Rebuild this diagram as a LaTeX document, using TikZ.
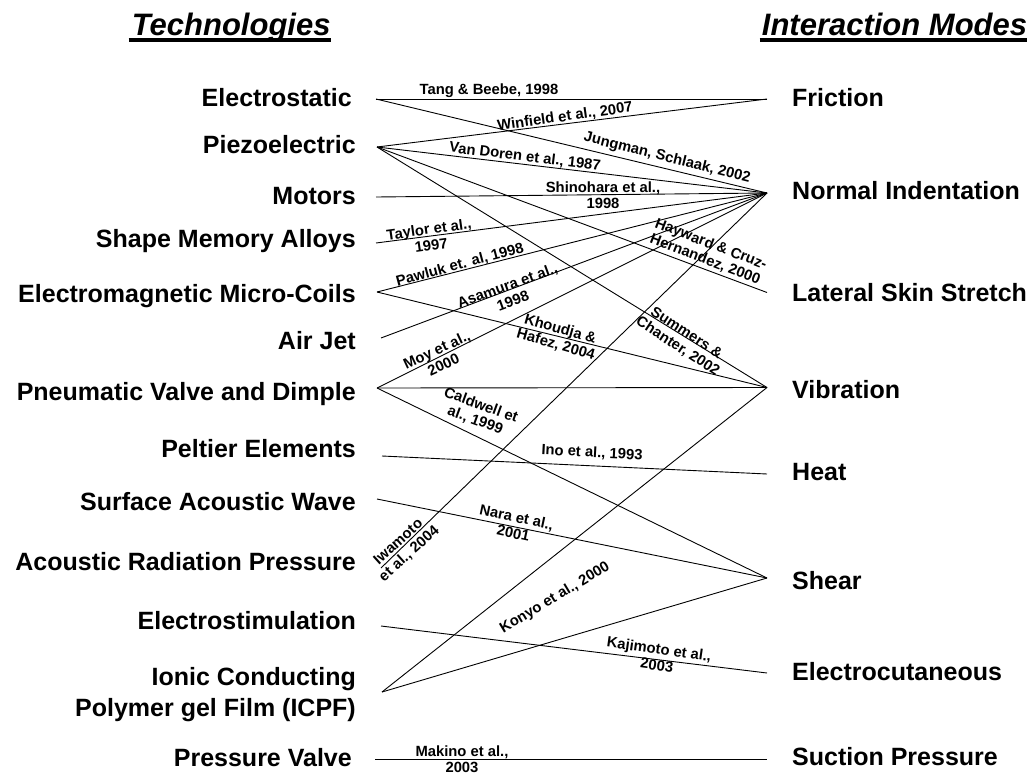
\documentclass[tikz,border=0pt]{standalone}
\usepackage{fontspec}
\setmainfont{Liberation Sans}
\tikzset{
	tech/.style={anchor=base east,inner sep=0pt,font=\fontsize{25}{30}\selectfont\bfseries},
	mode/.style={anchor=base west,inner sep=0pt,font=\fontsize{25}{30}\selectfont\bfseries},
	head/.style={anchor=base west,inner sep=0pt,font=\fontsize{31}{36}\selectfont\bfseries\itshape},
	ref/.style={inner sep=0pt,align=center,font=\fontsize{14.8}{16.2}\selectfont\bfseries},
	link/.style={line width=0.9pt}
}
\begin{document}
\begin{tikzpicture}[x=1pt,y=-1pt]
		\useasboundingbox (0,0) rectangle (1034,774);
		%headings
		\node[head] (hTech) at (131.7,35) {Technologies};
		\node[head] (hMode) at (761.7,35) {Interaction Modes};
		\draw[line width=3.6pt] ([xshift=-3pt,yshift=-4.7pt]hTech.base west) -- ([yshift=-4.7pt]hTech.base east);
		\draw[line width=3.6pt] ([xshift=-2pt,yshift=-4.7pt]hMode.base west) -- ([yshift=-4.7pt]hMode.base east);
		%technologies
		\node[tech] (nEstat) at (352,106) {Electrostatic};
		\node[tech] (nPiezo) at (356,153) {Piezoelectric};
		\node[tech] (nMotor) at (356,204) {Motors};
		\node[tech] (nSMA) at (356,247) {Shape Memory Alloys};
		\node[tech] (nEMC) at (356,302.7) {Electromagnetic Micro-Coils};
		\node[tech] (nAir) at (356,349) {Air Jet};
		\node[tech] (nPneu) at (356,400) {Pneumatic Valve and Dimple};
		\node[tech] (nPelt) at (356,457) {Peltier Elements};
		\node[tech] (nSAW) at (356,510.7) {Surface Acoustic Wave};
		\node[tech] (nARP) at (356,570.7) {Acoustic Radiation Pressure};
		\node[tech] (nEstim) at (356,629.3) {Electrostimulation};
		\node[tech] (nICPFa) at (356,685) {Ionic Conducting};
		\node[tech] (nICPFb) at (356,716.7) {Polymer gel Film (ICPF)};
		\node[tech] (nPVal) at (352,766.7) {Pressure Valve};
		%modes
		\node[mode] (nFric) at (792,106) {Friction};
		\node[mode] (nNorm) at (792,199.3) {Normal Indentation};
		\node[mode] (nLat) at (792,301) {Lateral Skin Stretch};
		\node[mode] (nVib) at (792,398.3) {Vibration};
		\node[mode] (nHeat) at (792,480.7) {Heat};
		\node[mode] (nShear) at (792,589.3) {Shear};
		\node[mode] (nElec) at (792,680.7) {Electrocutaneous};
		\node[mode] (nSuct) at (792,765) {Suction Pressure};
		%line ends
		\coordinate (tEstat) at (376,99);
		\coordinate (tPiezo) at (377,147);
		\coordinate (tMotor) at (376,197);
		\coordinate (tSMA) at (376,243);
		\coordinate (tEMC) at (377,292);
		\coordinate (tAir) at (381,338);
		\coordinate (tPneu) at (377,388);
		\coordinate (tPelt) at (382,456);
		\coordinate (tSAW) at (377,499);
		\coordinate (tARP) at (381,568);
		\coordinate (tEstim) at (381,626);
		\coordinate (tICPF) at (382,692);
		\coordinate (tPVal) at (375,759);
		\coordinate (mFric) at (767,99);
		\coordinate (mNorm) at (767,193);
		\coordinate (mLat) at (767,292.5);
		\coordinate (mVib) at (767,387.5);
		\coordinate (mHeat) at (767,474);
		\coordinate (mShear) at (767,578);
		\coordinate (mElec) at (767,673);
		\coordinate (mSuct) at (767,759);
		%links
		\draw[link] (tEstat) -- (mFric);
		\draw[link] (tEstat) -- (mNorm);
		\draw[link] (tPiezo) -- (mFric);
		\draw[link] (tPiezo) -- (mNorm);
		\draw[link] (tPiezo) -- (mLat);
		\draw[link] (tPiezo) -- (mVib);
		\draw[link] (tMotor) -- (mNorm);
		\draw[link] (tSMA) -- (mNorm);
		\draw[link] (tEMC) -- (mNorm);
		\draw[link] (tEMC) -- (mVib);
		\draw[link] (tAir) -- (mNorm);
		\draw[link] (tPneu) -- (mNorm);
		\draw[link] (tPneu) -- (mVib);
		\draw[link] (tPneu) -- (mShear);
		\draw[link] (tPelt) -- (mHeat);
		\draw[link] (tSAW) -- (mShear);
		\draw[link] (tARP) -- (mNorm);
		\draw[link] (tEstim) -- (mElec);
		\draw[link] (tICPF) -- (mVib);
		\draw[link] (tICPF) -- (mShear);
		\draw[link] (tPVal) -- (mSuct);
		%references
		\node[ref] (rTang) at (489,91) {Tang \& Beebe, 1998};
		\node[ref,rotate=8] (rWinf) at (565,117) {Winfield et al., 2007};
		\node[ref,rotate=-14] (rJung) at (667,158) {Jungman, Schlaak, 2002};
		\node[ref,rotate=-7] (rVanD) at (525,157) {Van Doren et al., 1987};
		\node[ref] (rShin) at (603,195) {Shinohara et al.,\\1998};
		\node[ref,rotate=8] (rTayl) at (430,237) {Taylor et al.,\\1997};
		\node[ref,rotate=15] (rPawl) at (460,265) {Pawluk et. al, 1998};
		\node[ref,rotate=20] (rAsam) at (510,293) {Asamura et al.,\\1998};
		\node[ref,rotate=-21] (rHayw) at (708,252) {Hayward \& Cruz-\\Hernandez, 2000};
		\node[ref,rotate=-16] (rKhou) at (558,337) {Khoudja \&\\Hafez, 2004};
		\node[ref,rotate=-33] (rSumm) at (682,340) {Summers \&\\Chanter, 2002};
		\node[ref,rotate=25] (rMoy) at (440,357) {Moy et al.,\\2000};
		\node[ref,rotate=-20] (rCald) at (478,413) {Caldwell et\\al., 1999};
		\node[ref,rotate=-3] (rIno) at (592,453) {Ino et al., 1993};
		\node[ref,rotate=-12] (rNara) at (515,525) {Nara et al.,\\2001};
		\node[ref,rotate=42] (rIwam) at (404,548) {Iwamoto\\et al., 2004};
		\node[ref,rotate=31] (rKony) at (555,598) {Konyo et al., 2000};
		\node[ref,rotate=-8] (rKaji) at (658,657) {Kajimoto et al.,\\2003};
		\node[ref] (rMaki) at (462,759) {Makino et al.,\\2003};
	\end{tikzpicture}
\end{document}
